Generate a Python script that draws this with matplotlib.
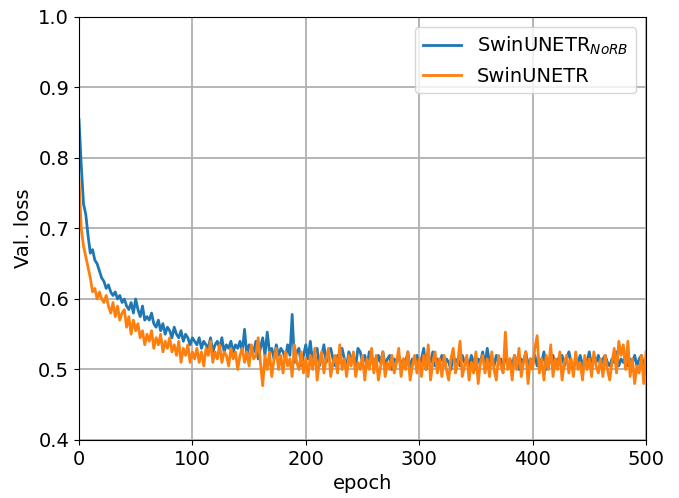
import numpy as np
import matplotlib
matplotlib.use('Agg')
import matplotlib.pyplot as plt

# Validation loss, every 2 epochs (0..500)
epochs = np.arange(0, 502, 2)

loss_norb = [
    0.855, 0.79, 0.735, 0.72, 0.69, 0.665, 0.67, 0.655, 0.65, 0.64,
    0.63, 0.625, 0.615, 0.62, 0.61, 0.605, 0.61, 0.60, 0.605, 0.595,
    0.60, 0.59, 0.585, 0.595, 0.58, 0.60, 0.585, 0.575, 0.59, 0.57,
    0.575, 0.57, 0.58, 0.565, 0.56, 0.57, 0.555, 0.565, 0.55, 0.56,
    0.555, 0.545, 0.56, 0.55, 0.545, 0.555, 0.54, 0.55, 0.545, 0.535,
    0.545, 0.54, 0.535, 0.545, 0.53, 0.54, 0.535, 0.53, 0.545, 0.525,
    0.535, 0.54, 0.53, 0.545, 0.525, 0.535, 0.53, 0.54, 0.525, 0.535,
    0.53, 0.54, 0.525, 0.557, 0.52, 0.535, 0.53, 0.525, 0.54, 0.515,
    0.53, 0.545, 0.52, 0.553, 0.525, 0.53, 0.515, 0.535, 0.52, 0.53,
    0.525, 0.515, 0.535, 0.52, 0.578, 0.51, 0.525, 0.53, 0.505, 0.52,
    0.535, 0.515, 0.54, 0.51, 0.525, 0.53, 0.505, 0.52, 0.535, 0.51,
    0.525, 0.53, 0.515, 0.505, 0.52, 0.51, 0.53, 0.515, 0.505, 0.525,
    0.515, 0.52, 0.505, 0.53, 0.525, 0.51, 0.52, 0.505, 0.525, 0.51,
    0.515, 0.505, 0.52, 0.51, 0.525, 0.505, 0.515, 0.52, 0.50, 0.515,
    0.51, 0.52, 0.505, 0.515, 0.51, 0.525, 0.50, 0.515, 0.51, 0.52,
    0.505, 0.515, 0.53, 0.50, 0.515, 0.51, 0.525, 0.505, 0.515, 0.51,
    0.52, 0.505, 0.515, 0.51, 0.50, 0.52, 0.51, 0.515, 0.505, 0.52,
    0.51, 0.515, 0.505, 0.52, 0.51, 0.50, 0.515, 0.51, 0.525, 0.505,
    0.53, 0.51, 0.515, 0.505, 0.52, 0.51, 0.515, 0.50, 0.52, 0.51,
    0.515, 0.505, 0.52, 0.51, 0.50, 0.515, 0.51, 0.525, 0.505, 0.515,
    0.51, 0.52, 0.505, 0.515, 0.51, 0.525, 0.50, 0.515, 0.51, 0.52,
    0.505, 0.515, 0.51, 0.52, 0.505, 0.515, 0.525, 0.51, 0.50, 0.515,
    0.51, 0.52, 0.505, 0.515, 0.51, 0.525, 0.505, 0.515, 0.51, 0.52,
    0.505, 0.515, 0.52, 0.51, 0.505, 0.515, 0.51, 0.525, 0.505, 0.515,
    0.51, 0.52, 0.505, 0.515, 0.51, 0.52, 0.505, 0.515, 0.52, 0.505,
    0.495,
]

loss_swin = [
    0.77, 0.70, 0.675, 0.66, 0.645, 0.63, 0.61, 0.615, 0.60, 0.61,
    0.60, 0.595, 0.605, 0.59, 0.58, 0.595, 0.575, 0.59, 0.57, 0.58,
    0.585, 0.56, 0.575, 0.55, 0.57, 0.555, 0.565, 0.545, 0.555, 0.535,
    0.55, 0.54, 0.555, 0.53, 0.545, 0.535, 0.55, 0.525, 0.54, 0.53,
    0.545, 0.525, 0.535, 0.52, 0.54, 0.51, 0.53, 0.52, 0.535, 0.51,
    0.525, 0.515, 0.53, 0.51, 0.525, 0.505, 0.53, 0.52, 0.54, 0.51,
    0.525, 0.515, 0.535, 0.51, 0.525, 0.52, 0.505, 0.53, 0.515, 0.525,
    0.50, 0.52, 0.53, 0.51, 0.525, 0.505, 0.535, 0.515, 0.52, 0.545,
    0.51, 0.477, 0.52, 0.50, 0.525, 0.49, 0.515, 0.53, 0.50, 0.52,
    0.495, 0.525, 0.505, 0.515, 0.49, 0.535, 0.51, 0.50, 0.525, 0.495,
    0.515, 0.49, 0.52, 0.50, 0.53, 0.485, 0.51, 0.525, 0.495, 0.515,
    0.53, 0.49, 0.51, 0.52, 0.495, 0.535, 0.50, 0.515, 0.49, 0.52,
    0.505, 0.525, 0.49, 0.51, 0.50, 0.52, 0.485, 0.515, 0.50, 0.53,
    0.495, 0.52, 0.485, 0.505, 0.525, 0.49, 0.51, 0.50, 0.52, 0.495,
    0.51, 0.53, 0.49, 0.515, 0.50, 0.525, 0.485, 0.505, 0.52, 0.495,
    0.515, 0.49, 0.52, 0.50, 0.535, 0.485, 0.51, 0.525, 0.495, 0.515,
    0.49, 0.52, 0.50, 0.485, 0.515, 0.53, 0.495, 0.51, 0.54, 0.49,
    0.505, 0.52, 0.485, 0.51, 0.495, 0.525, 0.48, 0.51, 0.52, 0.495,
    0.515, 0.49, 0.525, 0.50, 0.485, 0.52, 0.505, 0.495, 0.553, 0.50,
    0.515, 0.485, 0.52, 0.50, 0.53, 0.49, 0.51, 0.525, 0.48, 0.515,
    0.50, 0.53, 0.548, 0.495, 0.515, 0.485, 0.52, 0.50, 0.535, 0.49,
    0.515, 0.50, 0.525, 0.485, 0.51, 0.52, 0.495, 0.515, 0.49, 0.525,
    0.50, 0.51, 0.485, 0.52, 0.50, 0.515, 0.49, 0.525, 0.505, 0.495,
    0.515, 0.49, 0.52, 0.50, 0.485, 0.51, 0.53, 0.495, 0.54, 0.52,
    0.535, 0.50, 0.54, 0.49, 0.515, 0.48, 0.505, 0.495, 0.52, 0.48,
    0.525,
]

fig = plt.figure(figsize=(6.79, 4.98), dpi=100)
ax = fig.add_axes([0.1163, 0.1165, 0.8351, 0.8494])

ax.plot(epochs, loss_norb, color='#1f77b4', linewidth=2, label=r'SwinUNETR$_{NoRB}$')
ax.plot(epochs, loss_swin, color='#ff7f0e', linewidth=2, label='SwinUNETR')

ax.set_xlim(0, 500)
ax.set_ylim(0.4, 1.0)
ax.set_xticks([0, 100, 200, 300, 400, 500])
ax.set_yticks([0.4, 0.5, 0.6, 0.7, 0.8, 0.9, 1.0])
ax.grid(True, color='#b0b0b0', linewidth=1.3)
ax.tick_params(labelsize=14)
ax.set_xlabel('epoch', fontsize=14)
ax.set_ylabel('Val. loss', fontsize=14)
ax.legend(loc='upper right', fontsize=14)

fig.savefig('out.png', dpi=100)
